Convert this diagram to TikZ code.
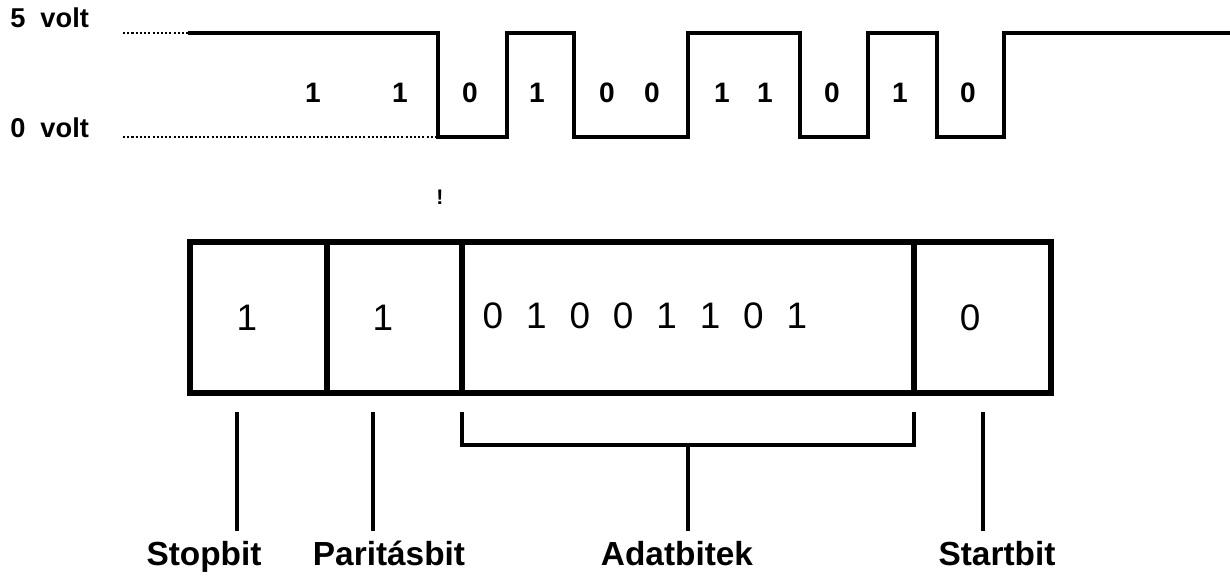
\documentclass[tikz,border=0pt]{standalone}
\usepackage{fontspec}
\setmainfont{Liberation Sans}
\usepackage{tikz}
\tikzstyle{cellule} = [rectangle, draw=black, line width=3.6pt, minimum height=3.02cm, inner sep=0pt, outer sep=0pt]
\tikzstyle{chiffre} = [font=\fontsize{21}{21}\selectfont, inner sep=0pt]
\tikzstyle{bitsignal} = [font=\bfseries\fontsize{16}{16}\selectfont, inner sep=0pt]
\tikzstyle{legende} = [font=\bfseries\fontsize{19}{19}\selectfont, inner sep=0pt, anchor=base]
\tikzstyle{niveau} = [font=\bfseries\fontsize{15.5}{15.5}\selectfont, inner sep=0pt, anchor=base west]
\tikzstyle{pointille} = [line width=0.9pt, dash pattern=on 1.2pt off 1.2pt]
\tikzstyle{trait} = [line width=2.1pt]

\begin{document}
\begin{tikzpicture}[x=0.02cm, y=-0.02cm]
        \useasboundingbox (0,0) rectangle (1230,577);

        % niveaux de tension
        \node (cinq) [niveau] at (10,28) {5\hspace{0.3cm}volt};
        \node (zero) [niveau] at (10,138) {0\hspace{0.3cm}volt};
        \draw[pointille] (123,33) -- (188,33);
        \draw[pointille] (123,137) -- (438,137);

        % signal
        \draw[line width=2.3pt] (188,33) -| (438,137) -| (507,33) -| (574,137) -| (688,33)
            -| (800,137) -| (868,33) -| (937,137) -| (1004,33) -- (1230,33);
        \foreach \x/\b in {313/1, 400/1, 470/0, 537/1, 607/0, 652/0, 722/1, 765/1, 832/0, 900/1, 968/0}
            \node [bitsignal] at (\x,93) {\b};

        \node (marque) [font=\bfseries\fontsize{12}{12}\selectfont, inner sep=0pt] at (440,197) {!};

        % trame
        \node (stop) [cellule, minimum width=2.74cm] at (258.5,317.5) {};
        \node (parite) [cellule, minimum width=2.70cm] at (394.5,317.5) {};
        \node (donnees) [cellule, minimum width=9.04cm] at (688,317.5) {};
        \node (start) [cellule, minimum width=2.74cm] at (982.5,317.5) {};

        \node [chiffre] at ([xshift=-0.23cm]stop.center) {1};
        \node [chiffre] at ([xshift=-0.23cm]parite.center) {1};
        \node [chiffre] at ([xshift=-0.25cm]start.center) {0};
        \foreach \b [count=\i from 0] in {0,1,0,0,1,1,0,1}
            \node [chiffre] at (493+43.4*\i,316) {\b};

        % legendes
        \node (lstop) [legende] at (204,565) {Stopbit};
        \node (lparite) [legende] at (389,565) {Paritásbit};
        \node (ldonnees) [legende] at (677,565) {Adatbitek};
        \node (lstart) [legende] at (997,565) {Startbit};

        \coordinate (hstop) at (237,412);
        \coordinate (hparite) at (373,412);
        \coordinate (hstart) at (983,412);

        \draw[trait, shorten >=0.18cm] (hstop) -- (hstop |- lstop.north);
        \draw[trait, shorten >=0.18cm] (hparite) -- (hparite |- lstop.north);
        \draw[trait, shorten >=0.18cm] (hstart) -- (hstart |- lstop.north);

        \draw[trait, line width=2.3pt] ([yshift=-0.38cm]donnees.south west) |- ([yshift=-1.04cm]donnees.south east)
            -- ([yshift=-0.38cm]donnees.south east);
        \draw[trait, shorten >=0.18cm] ([yshift=-1.04cm]donnees.south) -- (donnees.south |- lstop.north);

    \end{tikzpicture}
\end{document}
